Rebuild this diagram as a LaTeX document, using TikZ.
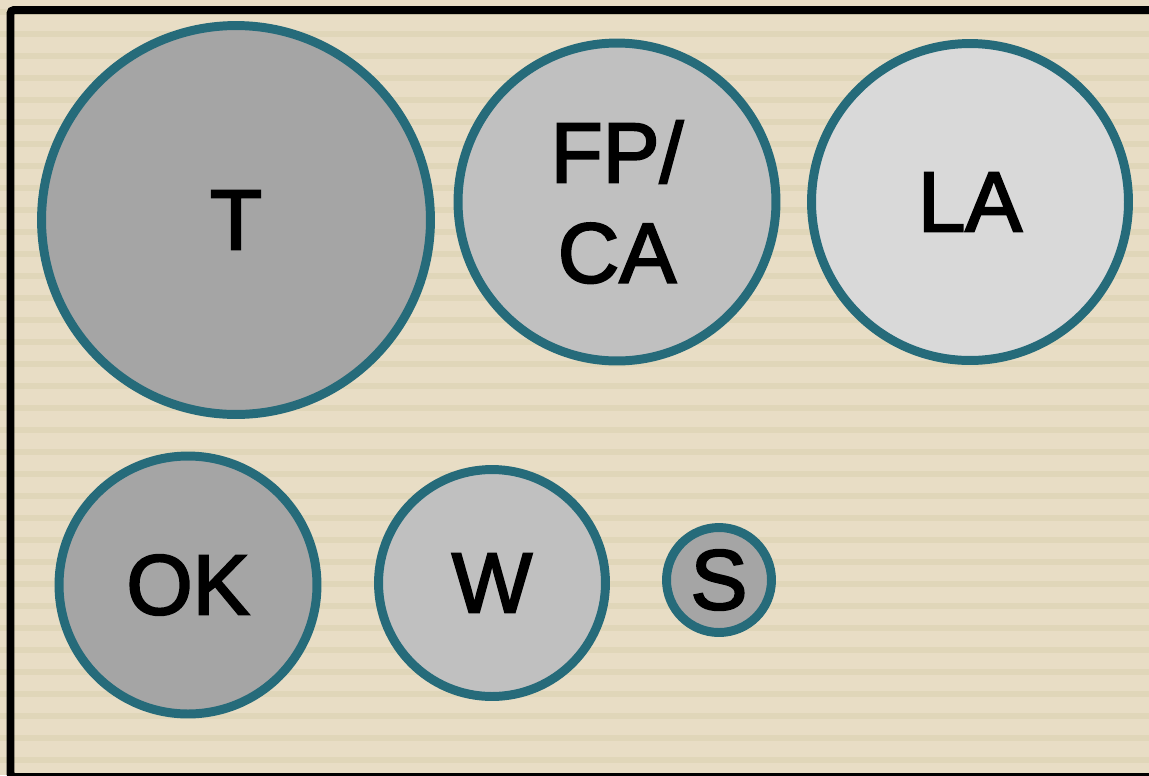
\documentclass[tikz,border=0pt]{standalone}
\usepackage{fontspec}
\setmainfont{Liberation Sans}
\newfontface\bubbleface[FakeBold=2.5]{Liberation Sans}
\usepackage{tikz}
\usetikzlibrary{positioning}

\definecolor{paper}{HTML}{E8DDC5}
\definecolor{paperline}{HTML}{E0D6B9}
\definecolor{ringteal}{HTML}{266B7A}
\definecolor{greyA}{HTML}{A5A5A5}
\definecolor{greyB}{HTML}{C0C0C0}
\definecolor{greyC}{HTML}{D9D9D9}
\newcommand{\bubblefont}{\bubbleface\fontsize{48.5}{57}\selectfont}

\begin{document}
\begin{tikzpicture}[x=0.02cm, y=-0.02cm,
  bubble/.style={circle, draw=ringteal, line width=5.1pt, inner sep=0pt,
    align=center, font=\bubblefont}]
\useasboundingbox (0,0) rectangle (1149,775);
\clip (0,0) rectangle (1149,775);
% paper with stripes
\fill[paper] (0,0) rectangle (1149,775);
\foreach \k in {0,...,35} {
  \fill[paperline] (0,9+22*\k) rectangle (1149,15+22*\k);
}
\draw[black, line width=0.16cm, rounded corners=2pt] (10.5,10) rectangle (1170,777);
% bubbles
\node[bubble, fill=greyA, minimum size=7.78cm] (t) at (236,220) {T};
\node[bubble, fill=greyB, minimum size=6.36cm] (fpca) at (617,202) {FP/\\CA};
\node[bubble, fill=greyC, minimum size=6.34cm] (la) at (970,202) {LA};
\node[bubble, fill=greyA, minimum size=5.16cm] (ok) at (188,585) {OK};
\node[bubble, fill=greyB, minimum size=4.54cm] (w) at (492,583) {W};
\node[bubble, fill=greyA, minimum size=2.1cm] (s) at (719,580) {S};
\end{tikzpicture}
\end{document}
